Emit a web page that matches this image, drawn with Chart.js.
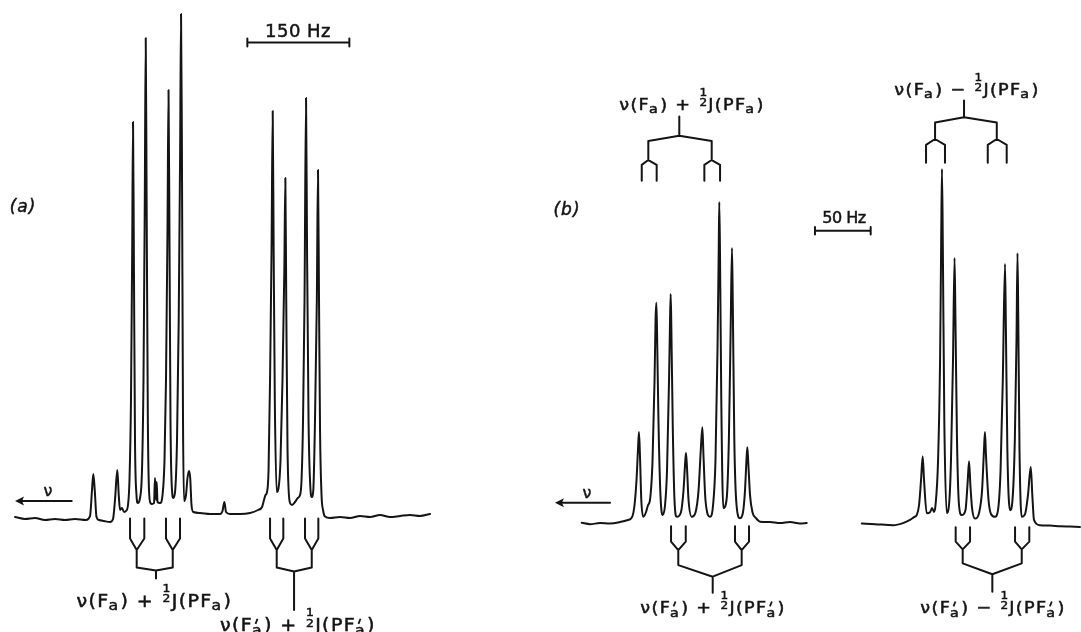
<!DOCTYPE html>
<html>
<head>
<meta charset="utf-8">
<script src="https://cdn.jsdelivr.net/npm/chart.js@4.4.1/dist/chart.umd.min.js"></script>
<style>
  html, body { margin: 0; padding: 0; background: #fff; }
  .fig { display: flex; width: 1081px; height: 632px; }
  canvas { display: block; }
</style>
</head>
<body>
<div class="fig">
  <canvas id="panelA" width="440" height="632"></canvas>
  <canvas id="panelB" width="641" height="632"></canvas>
</div>
<script>
// panel (a): [offset Hz, relative intensity]
const traceA = [
  [22.1, 0], [36.8, -0.4], [51.5, -0.2], [66.2, -0.6], [80.9, -0.4], [95.6, -0.6], [110.3, -0.4], [126.5, -0.6],
  [132.4, 0.2], [135.3, 5.4], [137.2, 8.6], [139.3, 5.4], [141.9, 0], [145.6, -0.6], [152.9, -0.8], [161.8, -1], [166.2, -0.4],
  [169.1, 3.4], [172.5, 9.4], [174.6, 4.4], [176.5, 1.4], [179.4, 1.8], [182.4, 1.0], [185.3, 1.2], [188.2, 2.4],
  [190.4, 7.4], [192.6, 23.4], [194.4, 53.4], [195.6, 79.0], [196.8, 53.4], [198.5, 15.4], [200.7, 4.4], [202.5, 2.8],
  [205.9, 3.8], [208.8, 9.4], [211.0, 27.4], [212.9, 63.4], [214.3, 95.8], [215.6, 63.4], [217.4, 19.4], [219.1, 5.4], [221.3, 2.8], [223.5, 2.6],
  [226.5, 2.8], [227.9, 7.8], [229.4, 3.4], [230.4, 7.0], [231.6, 3.0], [235.3, 2.8],
  [239.0, 4.4], [241.9, 11.4], [244.1, 27.4], [246.3, 57.4], [247.8, 85.4], [249.3, 53.4], [250.7, 19.4], [252.9, 5.4], [254.9, 3.8],
  [257.4, 5.0], [260.3, 15.4], [262.8, 39.4], [264.9, 73.4], [266.2, 100.6], [267.5, 73.4], [269.1, 19.4], [270.6, 3.2],
  [273.5, 4.4], [275.7, 7.8], [277.9, 9.2], [279.7, 7.8], [281.6, 2.4], [284.3, 1.0],
  [294.1, 0.8], [308.8, 0.6], [323.5, 0.6], [327.2, 1.2], [329.9, 3.0], [332.4, 1.0], [338.2, 0.6], [352.9, 0.6],
  [367.6, 0.8], [379.4, 1.4], [385.3, 2.0], [388.2, 3.4], [390.4, 4.4], [392.6, 5.0],
  [394.9, 9.4], [397.1, 27.4], [399.3, 53.4], [401.0, 81.2], [402.4, 53.4], [404.1, 23.4], [406.9, 5.0],
  [409.6, 5.8], [412.5, 11.4], [415.4, 27.4], [418.1, 49.4], [419.6, 67.8], [420.9, 43.4], [422.8, 13.4], [426.5, 2.8], [429.4, 2.4], [433.8, 3.0],
  [437.8, 3.8], [441.2, 4.4],
  [443.4, 7.4], [445.6, 19.4], [447.8, 43.4], [450.0, 83.8], [451.5, 53.4], [453.7, 19.4], [456.6, 5.4], [458.4, 4.0],
  [460.7, 5.4], [463.2, 19.4], [465.9, 43.4], [467.6, 69.4], [469.1, 43.4], [470.6, 17.4], [472.8, 4.4], [475.0, 1.4], [477.9, 0.1],
  [485.3, -0.2], [500.0, 0], [514.7, -0.2], [529.4, 0.2], [544.1, 0], [558.8, 0.4], [573.5, 0], [588.2, 0.2], [602.9, 0.4], [617.6, 0.2], [632.4, 0.6]
];

// splitting trees: [legs, forks, root, levels]
const treeA1 = [[191.2, 212.2, 244.1, 264.7], [201.0, 254.0], [229.4], [-0.3, -4.3, -6.6, -10.1, -10.7, -12.3]];
const treeA2 = [[397.1, 416.6, 448.5, 468.1], [406.9, 458.4], [432.4], [-0.3, -4.3, -6.6, -10.1, -10.9, -18.6]];
const barA = [363.7, 513.7, 94.9];   // 150 Hz
const arrowA = [105.4, 22.1, 3.2];
const labelsA = [
  ["ν(F_a) + ½J(PF_a)", 227, -17.9],
  ["ν(F'_a) + ½J(PF'_a)", 438, -22.8]
];

// panel (b)
const traceB1 = [
  [127.2, 0.1], [134.7, -0.3], [143.6, 0], [152.6, -0.1], [161.6, 0.3], [168.8, 0.9], [172.4, 1.7],
  [174.6, 5.1], [176.4, 12.3], [177.7, 20.9], [178.6, 26.0], [179.5, 19.4], [180.7, 6.6], [182.5, 1.8],
  [184.9, 3.1], [186.7, 5.1], [188.5, 6.6],
  [190.8, 18.0], [192.6, 40.9], [193.5, 58.0], [194.2, 62.9], [194.8, 55.1], [196.1, 29.4], [197.9, 8.0], [199.9, 2.3],
  [202.0, 5.1], [203.8, 15.1], [205.6, 40.9], [206.5, 58.0], [207.1, 65.4], [207.7, 55.1], [209.0, 26.6], [210.5, 6.6], [212.5, 1.8],
  [216.3, 3.1], [218.6, 9.4], [220.1, 17.4], [220.8, 20.0], [221.6, 16.6], [223.1, 6.6], [226.0, 1.8],
  [229.4, 3.1], [232.1, 9.4], [234.1, 20.9], [235.5, 27.4], [236.5, 19.4], [238.3, 6.6], [242.4, 1.8],
  [245.1, 5.1], [247.3, 18.0], [249.1, 49.4], [250.2, 78.0], [250.7, 91.7], [251.4, 75.1], [252.5, 35.1], [254.3, 4.3],
  [257.2, 6.6], [259.3, 23.7], [260.9, 55.1], [262.1, 78.6], [262.8, 63.7], [264.2, 23.7], [266.2, 5.1], [269.3, 1.4],
  [272.0, 3.1], [273.8, 9.4], [275.1, 18.0], [275.9, 21.7], [276.7, 17.4], [278.3, 8.0], [280.5, 3.1], [283.7, 1.4], [287.3, 0.4],
  [296.2, 0.3], [305.2, 0], [314.2, 0.3], [323.2, -0.1], [329.2, 0]
];
const traceB2 = [
  [378.6, -0.1], [390.5, -0.3], [406.9, -0.6], [415.6, 0], [421.9, 0.9], [425.5, 1.7], [427.9, 2.3],
  [430.0, 5.1], [431.8, 12.3], [433.3, 19.1], [434.5, 12.3], [436.9, 2.8],
  [439.9, 3.1], [441.7, 4.3], [443.5, 3.2],
  [444.8, 5.1], [447.1, 18.0], [448.9, 46.6], [449.9, 80.9], [450.6, 101.1], [451.4, 78.0], [452.7, 29.4], [454.9, 2.9],
  [456.9, 5.1], [458.7, 18.0], [460.5, 46.6], [461.9, 75.7], [462.7, 58.0], [464.1, 23.7], [465.9, 5.1], [468.3, 2.3],
  [471.7, 3.7], [473.5, 10.9], [474.9, 17.7], [476.1, 10.9], [477.6, 4.3], [480.3, 1.3],
  [483.9, 2.9], [486.6, 9.4], [488.3, 20.9], [489.2, 26.0], [490.1, 19.4], [492.4, 6.6], [494.6, 2.6], [498.2, 1.8],
  [500.9, 3.7], [503.2, 15.1], [505.2, 40.9], [507.2, 74.0], [508.0, 55.1], [509.3, 20.9], [511.7, 3.7],
  [513.9, 6.6], [516.0, 23.7], [517.5, 52.3], [518.4, 77.1], [519.1, 58.0], [520.2, 20.9], [522.2, 1.8],
  [525.2, 2.6], [527.8, 8.0], [530.3, 16.0], [531.7, 8.0], [533.2, 0.9], [538.6, -0.6], [547.6, -0.7], [556.6, -0.9], [565.6, -1.0], [574.5, -1.1]
];
const treeB1top = [[181.1, 194.5, 237.3, 251.4], [187.0, 243.9], [214.8], [97.8, 102.3, 103.7, 109.1, 110.6, 116.1]];
const treeB2top = [[436.3, 453.3, 491.7, 508.7], [444.4, 499.8], [470.4], [102.9, 108.0, 109.7, 114.4, 115.9, 120.7]];
const treeB1low = [[207.4, 220.6, 264.8, 277.4], [213.9, 270.8], [244.8], [-0.9, -5.3, -7.7, -12.0, -15.3, -19.9]];
const treeB2low = [[462.9, 475.8, 516.2, 529.0], [469.2, 522.2], [495.8], [-1.2, -5.3, -7.5, -11.5, -14.6, -19.6]];
const barB = [336.6, 386.6, 83.5];   // 50 Hz
const arrowB = [152.6, 103.2, 5.8];
const labelsB = [
  ["ν(F_a) + ½J(PF_a)", 226.2, 118],
  ["ν(F_a) − ½J(PF_a)", 473.1, 122.3],
  ["ν(F'_a) + ½J(PF'_a)", 245.1, -25.7],
  ["ν(F'_a) − ½J(PF'_a)", 496.4, -25.7]
];

const INK = '#141414';
const FONT = '"DejaVu Sans", sans-serif';

function toPoints(arr) {
  return arr.map(p => ({ x: p[0], y: p[1] }));
}

function treePath(tree) {
  const [legs, forks, root, lv] = tree;
  const r = root[0];
  const pts = [];
  [0, 1].forEach(k => {
    const a = legs[2 * k], b = legs[2 * k + 1], f = forks[k];
    pts.push({ x: a, y: lv[0] }, { x: a, y: lv[1] }, { x: f, y: lv[2] }, { x: b, y: lv[1] }, { x: b, y: lv[0] });
    pts.push({ x: f, y: null });
    pts.push({ x: f, y: lv[2] }, { x: f, y: lv[3] }, { x: r, y: lv[4] });
    pts.push({ x: r, y: null });
  });
  pts.push({ x: r, y: lv[4] }, { x: r, y: lv[5] });
  return pts;
}

function barPath(bar, tick) {
  const [x0, x1, y] = bar;
  return [
    { x: x0, y: y - tick }, { x: x0, y: y + tick }, { x: x0, y: null },
    { x: x0, y: y }, { x: x1, y: y }, { x: x1, y: null },
    { x: x1, y: y - tick }, { x: x1, y: y + tick }
  ];
}

function lineSet(data, smooth) {
  return {
    data: data,
    showLine: true,
    borderColor: INK,
    borderWidth: 2,
    pointRadius: 0,
    fill: false,
    spanGaps: false,
    tension: 0,
    cubicInterpolationMode: smooth ? 'monotone' : 'default',
    borderJoinStyle: 'round',
    borderCapStyle: 'round'
  };
}

function parseLabel(str) {
  const parts = [];
  let buf = '';
  for (let i = 0; i < str.length; i++) {
    const c = str[i];
    if (c === '_' || c === "'" || c === '½') {
      if (buf) { parts.push({ t: 'n', s: buf }); buf = ''; }
      if (c === '½') parts.push({ t: 'f' });
      else if (c === "'") { parts.push({ t: 's', s: str[i + 2], prime: true }); i += 2; }
      else { parts.push({ t: 's', s: str[i + 1] }); i += 1; }
    } else {
      buf += c;
    }
  }
  if (buf) parts.push({ t: 'n', s: buf });
  return parts;
}

// fill plus a thin stroke, the scanned lettering is a bit heavier than the font
function inkText(ctx, s, x, y) {
  ctx.fillText(s, x, y);
  ctx.strokeText(s, x, y);
}

// label with subscripts, primes and a stacked 1/2, stretched a little like the old lettering
function drawRich(ctx, str, cx, by, size, spacing, stretch) {
  const parts = parseLabel(str);
  const main = size + 'px ' + FONT;
  const small = Math.round(size * 0.8) + 'px ' + FONT;
  const tiny = Math.round(size * 0.66) + 'px ' + FONT;
  ctx.save();
  ctx.translate(cx, by);
  ctx.scale(stretch, 1);
  ctx.letterSpacing = spacing + 'px';
  ctx.lineWidth = 0.5;
  const widths = parts.map(p => {
    if (p.t === 'n') { ctx.font = main; return ctx.measureText(p.s).width; }
    if (p.t === 's') { ctx.font = small; return ctx.measureText(p.s).width; }
    ctx.font = tiny;
    return ctx.measureText('2').width + 1;
  });
  const total = widths.reduce((a, b) => a + b, 0);
  let x = -total / 2;
  ctx.textAlign = 'left';
  ctx.textBaseline = 'alphabetic';
  parts.forEach((p, i) => {
    if (p.t === 'n') {
      ctx.font = main;
      inkText(ctx, p.s, x, 0);
    } else if (p.t === 's') {
      ctx.font = small;
      inkText(ctx, p.s, x - 1, size * 0.22);
      if (p.prime) {
        ctx.lineWidth = 1.6;
        ctx.beginPath();
        ctx.moveTo(x + 4, -size * 0.72);
        ctx.lineTo(x + 2.2, -size * 0.42);
        ctx.stroke();
        ctx.lineWidth = 0.5;
      }
    } else {
      ctx.font = tiny;
      ctx.letterSpacing = '0px';
      const fx = x + widths[i] / 2;
      ctx.textAlign = 'center';
      inkText(ctx, '1', fx, -size * 0.88);
      inkText(ctx, '2', fx, -size * 0.25);
      ctx.textAlign = 'left';
      ctx.letterSpacing = spacing + 'px';
    }
    x += widths[i];
  });
  ctx.restore();
}

function notesPlugin(opts) {
  return {
    id: 'notes',
    afterDatasetsDraw(chart) {
      const ctx = chart.ctx;
      const sx = chart.scales.x, sy = chart.scales.y;
      ctx.save();
      ctx.fillStyle = INK;
      ctx.strokeStyle = INK;
      // arrow head
      const ax = sx.getPixelForValue(opts.arrow[1]);
      const ay = sy.getPixelForValue(opts.arrow[2]);
      ctx.beginPath();
      ctx.moveTo(ax, ay);
      ctx.lineTo(ax + 9, ay - 4.5);
      ctx.lineTo(ax + 7, ay);
      ctx.lineTo(ax + 9, ay + 4.5);
      ctx.closePath();
      ctx.fill();
      // plain texts
      ctx.lineWidth = 0.5;
      opts.plain.forEach(t => {
        ctx.font = t[3] + ' ' + FONT;
        ctx.textAlign = 'center';
        ctx.textBaseline = 'alphabetic';
        ctx.letterSpacing = (t[4] || 0) + 'px';
        inkText(ctx, t[0], sx.getPixelForValue(t[1]), sy.getPixelForValue(t[2]));
        ctx.letterSpacing = '0px';
      });
      opts.rich.forEach(t => {
        drawRich(ctx, t[0], sx.getPixelForValue(t[1]), sy.getPixelForValue(t[2]), opts.size, opts.spacing, opts.stretch);
      });
      ctx.restore();
    }
  };
}

function makePanel(id, xMax, yMin, yMax, datasets, notes) {
  return new Chart(document.getElementById(id), {
    type: 'scatter',
    data: { datasets: datasets },
    options: {
      responsive: false,
      animation: false,
      clip: false,
      layout: { padding: 0 },
      scales: {
        x: { type: 'linear', min: 0, max: xMax, display: false },
        y: { type: 'linear', min: yMin, max: yMax, display: false }
      },
      plugins: {
        legend: { display: false },
        tooltip: { enabled: false }
      }
    },
    plugins: [notesPlugin(notes)]
  });
}

makePanel('panelA', 647, -23, 103.4, [
  lineSet(toPoints(traceA), true),
  lineSet(treePath(treeA1)),
  lineSet(treePath(treeA2)),
  lineSet(barPath(barA, 0.8)),
  lineSet([{ x: arrowA[0], y: arrowA[2] }, { x: arrowA[1] + 8, y: arrowA[2] }])
], {
  arrow: arrowA,
  size: 17,
  spacing: 1.2,
  stretch: 1.12,
  rich: labelsA,
  plain: [
    ['(a)', 33.8, 61, 'italic 17px', 1],
    ['150 Hz', 438.2, 96.1, '18px', 0.5],
    ['ν', 70.6, 4.2, '16px', 0]
  ]
});

makePanel('panelB', 575.4, -31.1, 149.4, [
  lineSet(toPoints(traceB1), true),
  lineSet(toPoints(traceB2), true),
  lineSet(treePath(treeB1top)),
  lineSet(treePath(treeB2top)),
  lineSet(treePath(treeB1low)),
  lineSet(treePath(treeB2low)),
  lineSet(barPath(barB, 1.1)),
  lineSet([{ x: arrowB[0], y: arrowB[2] }, { x: arrowB[1] + 7, y: arrowB[2] }])
], {
  arrow: arrowB,
  size: 16,
  spacing: 1.2,
  stretch: 1.1,
  rich: labelsB,
  plain: [
    ['(b)', 114, 88, 'italic 17px', 1],
    ['50 Hz', 362.7, 85.7, '16px', -0.5],
    ['ν', 132, 7.1, '16px', 0]
  ]
});
</script>
</body>
</html>
